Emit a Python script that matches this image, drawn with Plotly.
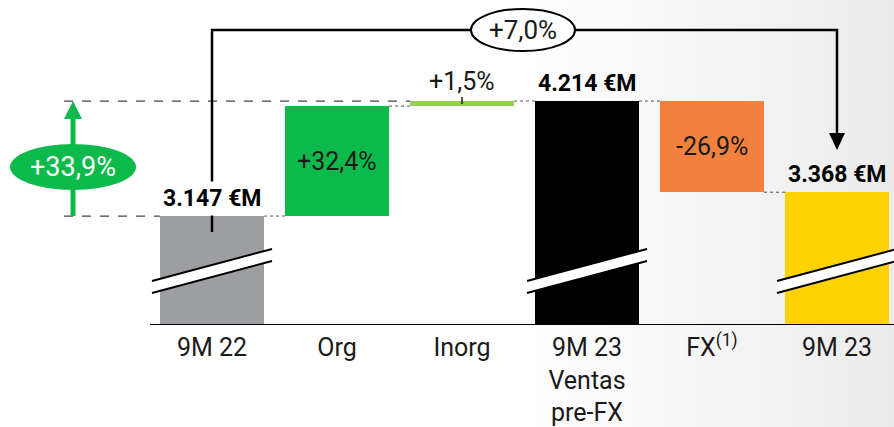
import plotly.graph_objects as go

# ---- data -------------------------------------------------------------------
categories = ["9M 22", "Org", "Inorg", "9M 23<br>Ventas<br>pre-FX", "FX<sup>(1)</sup>", "9M 23"]
sales_9m22 = 3147          # €M
org_delta = 1020           # €M  (+32,4%)
inorg_delta = 47           # €M  (+1,5%)
sales_9m23_prefx = 4214    # €M
fx_delta = -846            # €M  (-26,9%)
sales_9m23 = 3368          # €M

step_labels = ["+32,4%", "+1,5%", "-26,9%"]
total_labels = ["3.147 €M", "4.214 €M", "3.368 €M"]
growth_prefx_label = "+33,9%"
growth_total_label = "+7,0%"

# ---- style ------------------------------------------------------------------
W, H = 894, 427
FONT = "Roboto, 'Open Sans', sans-serif"
INK = "#1a1a1a"
BAR_COLORS = ["#9D9EA2", "#0BBA4A", "#92D050", "#000000", "#F2813D", "#FFD200"]
GREEN = "#0BBA4A"

# broken y axis: bottom of chart is not zero
Y0 = 2136
Y_PER_PX = 1067 / 115.0
PLOT_H = 325
X_STEP_PX, X0_PX = 125, 212
BAR_W = 0.832


def dy(px):
    return px * Y_PER_PX


def dx(px):
    return px / X_STEP_PX


x_range = [-X0_PX / X_STEP_PX, (W - X0_PX) / X_STEP_PX]
y_range = [Y0, Y0 + dy(PLOT_H)]

# ---- waterfall geometry -----------------------------------------------------
org_top = sales_9m22 + org_delta
bases = [Y0, sales_9m22, org_top, Y0, sales_9m23_prefx, Y0]
heights = [sales_9m22 - Y0, org_delta, inorg_delta,
           sales_9m23_prefx - Y0, fx_delta, sales_9m23 - Y0]
xs = list(range(len(categories)))

fig = go.Figure(go.Bar(
    x=xs, y=heights, base=bases, width=BAR_W,
    marker=dict(color=BAR_COLORS, line=dict(width=0)),
    hoverinfo="skip",
))

shapes = []

# light grey gradient on the right part of the slide
n_strips = 40
g0, g1 = 0.59, 1.0
for k in range(n_strips):
    t = (k + 0.5) / n_strips
    v = int(round(255 - t * 20))
    shapes.append(dict(type="rect", xref="paper", yref="paper", layer="below",
                       x0=g0 + (g1 - g0) * k / n_strips,
                       x1=g0 + (g1 - g0) * (k + 1) / n_strips + 0.002,
                       y0=-0.4, y1=1.05, line=dict(width=0),
                       fillcolor=f"rgb({v},{v},{v})"))

half = BAR_W / 2
gap_line = dict(color="#555555", width=1, dash="dot")
# connectors between consecutive bars
levels = [sales_9m22, org_top, sales_9m23_prefx, sales_9m23_prefx, sales_9m23]
for i, lv in enumerate(levels):
    shapes.append(dict(type="line", x0=i + half, x1=i + 1 - half, y0=lv, y1=lv, line=gap_line))

# long dashed guides for the +33,9% arrow
guide_x = -1.184
dash_line = dict(color="#444444", width=1.2, dash="dash")
shapes.append(dict(type="line", x0=guide_x, x1=-half, y0=sales_9m22, y1=sales_9m22, line=dash_line))
shapes.append(dict(type="line", x0=guide_x, x1=2 - half, y0=sales_9m23_prefx, y1=sales_9m23_prefx,
                   line=dash_line))

# green growth arrow
arrow_x = -1.112
shapes.append(dict(type="line", x0=arrow_x, x1=arrow_x, y0=sales_9m22,
                   y1=sales_9m23_prefx - dy(14), line=dict(color=GREEN, width=5)))
shapes.append(dict(type="path", fillcolor=GREEN, line=dict(width=0),
                   path=f"M {arrow_x - dx(9)} {sales_9m23_prefx - dy(18)} "
                        f"L {arrow_x + dx(9)} {sales_9m23_prefx - dy(18)} "
                        f"L {arrow_x} {sales_9m23_prefx} Z"))
ell_cy = Y0 + dy(PLOT_H - 167)
shapes.append(dict(type="circle", fillcolor=GREEN, line=dict(width=0),
                   x0=arrow_x - dx(63), x1=arrow_x + dx(63),
                   y0=ell_cy - dy(23), y1=ell_cy + dy(23)))

# inorg small tick
shapes.append(dict(type="line", x0=2, x1=2, y0=sales_9m23_prefx - dy(3), y1=sales_9m23_prefx + dy(4),
                   line=dict(color=INK, width=1.5)))

# bracket 9M 22 -> 9M 23
br_y = Y0 + dy(PLOT_H - 30)
tip_y = Y0 + dy(PLOT_H - 150)
blk = dict(color="#000000", width=2.5)
shapes.append(dict(type="path", line=blk,
                   path=f"M 0 {sales_9m22 - dy(16)} L 0 {br_y} L 5 {br_y} L 5 {tip_y + dy(14)}"))
shapes.append(dict(type="path", fillcolor="#000000", line=dict(width=0),
                   path=f"M {5 - dx(8)} {tip_y + dy(17)} L {5 + dx(8)} {tip_y + dy(17)} L 5 {tip_y} Z"))
ell2_x = 2.488
shapes.append(dict(type="circle", fillcolor="white", line=dict(color="#000000", width=2),
                   x0=ell2_x - dx(52), x1=ell2_x + dx(52), y0=br_y - dy(21), y1=br_y + dy(21)))

# axis break marks on the total bars
for i in (0, 3, 5):
    xl, xr = i - 0.48, i + 0.48
    yl, yr = Y0 + dy(44), Y0 + dy(76)
    t = dy(12)
    shapes.append(dict(type="path", fillcolor="white", line=dict(width=0),
                       path=f"M {xl} {yl} L {xr} {yr} L {xr} {yr - t} L {xl} {yl - t} Z"))
    for yy in (0, t):
        shapes.append(dict(type="line", x0=xl, x1=xr, y0=yl - yy, y1=yr - yy,
                           line=dict(color="#000000", width=2)))

# baseline
shapes.append(dict(type="line", x0=-0.496, x1=x_range[1], y0=Y0, y1=Y0,
                   line=dict(color="#000000", width=2)))

annotations = []
# totals
for i, val, lab in zip((0, 3, 5), (sales_9m22, sales_9m23_prefx, sales_9m23), total_labels):
    annotations.append(dict(x=i, y=val, text=f"<b>{lab}</b>", showarrow=False, yanchor="middle",
                            yshift=18, font=dict(family=FONT, size=23, color="#000000"),
                            bgcolor="white" if i == 0 else None, borderpad=3))
# step labels
annotations.append(dict(x=1, y=sales_9m22 + org_delta / 2, text=step_labels[0], showarrow=False,
                        font=dict(family=FONT, size=25, color=INK)))
annotations.append(dict(x=2, y=sales_9m23_prefx, text=step_labels[1], showarrow=False,
                        yshift=20, font=dict(family=FONT, size=25, color=INK)))
annotations.append(dict(x=4, y=sales_9m23_prefx + fx_delta / 2, text=step_labels[2], showarrow=False,
                        font=dict(family=FONT, size=25, color=INK)))
# growth labels
annotations.append(dict(x=arrow_x, y=ell_cy, text=growth_prefx_label, showarrow=False,
                        font=dict(family=FONT, size=27, color="white")))
annotations.append(dict(x=ell2_x, y=br_y, text=growth_total_label, showarrow=False,
                        font=dict(family=FONT, size=26, color=INK)))

fig.update_layout(
    width=W, height=H, template=None,
    margin=dict(l=0, r=0, t=0, b=H - PLOT_H),
    paper_bgcolor="white", plot_bgcolor="rgba(0,0,0,0)",
    showlegend=False, shapes=shapes, annotations=annotations,
    bargap=0,
)
fig.update_xaxes(range=x_range, tickvals=xs, ticktext=categories, showgrid=False, zeroline=False,
                 showline=False, ticks="", ticklabelstandoff=5,
                 tickfont=dict(family=FONT, size=25, color=INK))
fig.update_yaxes(range=y_range, visible=False, showgrid=False, zeroline=False)

fig.write_html("out.html", config={"displayModeBar": False},
               post_script="document.body.style.margin='0';")
